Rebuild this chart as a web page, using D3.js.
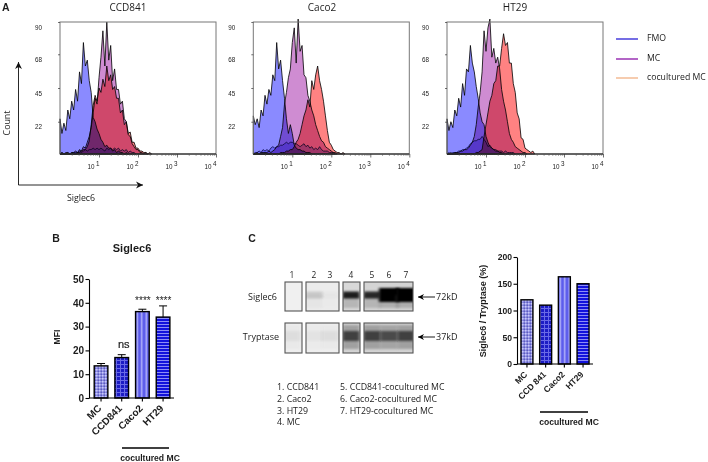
<!DOCTYPE html>
<html><head><meta charset="utf-8">
<script src="https://d3js.org/d3.v7.min.js"></script>
<style>
html,body{margin:0;padding:0;background:#fff}
svg{display:block;isolation:isolate}
text{fill:#1c1c1c}
.m{font-family:"Open Sans","Noto Sans",sans-serif}
.b{font-family:"Liberation Sans",Arial,sans-serif;font-weight:bold}
</style></head><body>
<svg id="c" width="708" height="462"></svg>
<script>
// Flow histograms: counts per log10 bin (bin width 0.05 decades)
const binWidth = 0.05;
const ccdFmo  = [24,14,21,16,30,24,36,30,44,36,56,48,76,60,64,50,42,25,22,17,14,10,8,5,6,4,4,2,3,1,2,1,1,0,1,0];
const ccdFmo2 = [0,1,0,0,1,0,1,1,1,1,2,1,2,3,2,3,3,4,3,4,3,4,3,2,4,3,4,3,4,3,4,2,3,2,3,1,2,1,1,0];
const ccdMc   = [0,1,0,1,1,0,1,1,2,1,3,2,5,4,8,12,18,28,38,34,52,66,84,60,90,64,74,50,58,44,44,34,36,24,22,13,12,7,5,3,3,1,1,0,1,0];
const ccdCo   = [0,0,0,0,0,0,0,0,0,1,1,2,3,3,5,9,20,33,40,36,45,42,51,46,60,50,54,44,46,38,38,28,30,20,22,14,15,8,8,4,4,2,2,1,1,0,1,0];
const cacFmo  = [26,20,24,18,30,26,40,34,44,40,54,50,76,58,64,50,38,24,14,20,14,6,4,3,3,2,2,1,1,1,0];
const cacFmo2 = [0,1,1,2,1,3,2,3,2,4,5,4,5,5,6,6,7,8,7,8,8,7,7,6,5,6,7,5,6,4,5,3,4,3,5,3,2,2,2,1,1,1,0];
const cacMc   = [0,0,1,0,1,1,1,1,2,1,2,3,5,6,12,18,34,42,52,58,76,86,62,92,70,74,54,52,40,36,30,26,20,16,12,9,8,5,4,3,2,1,1,0];
const cacCo   = [0,0,0,0,0,0,0,0,0,0,0,0,0,0,1,1,1,2,2,3,3,5,8,10,14,20,26,30,37,32,50,44,54,60,50,44,36,26,16,8,6,3,2,1,1,0,1,0];
const htFmo   = [24,16,22,18,30,26,38,32,48,40,58,56,74,62,56,46,38,28,22,20,12,8,5,4,3,2,2,1,1,0];
const htFmo2  = [0,1,0,1,1,1,2,2,3,3,4,5,7,8,9,9,10,10,12,10,8,5,6,4,3,3,2,2,2,1,2,1,1,1,1,0];
const htMc    = [0,0,1,0,1,1,1,2,2,3,3,4,6,8,12,20,32,42,56,84,70,86,92,66,72,62,66,58,44,36,30,22,14,10,8,5,4,3,2,1,1,0];
const htCo    = [0,0,0,0,0,0,0,0,0,0,0,0,0,0,0,1,1,2,3,12,20,28,36,40,48,50,60,60,72,82,74,76,62,62,48,42,28,24,11,10,4,3,2,1,2,0];
const histTitles = ["CCD841","Caco2","HT29"];
const countTicks = [22,45,68,90];
const decades = [10,100,1000,10000];
const minorTicks = [2,3,4,5,6,7,8,9,20,30,40,50,60,70,80,90,200,300,400,500,600,700,800,900,2000,3000,4000,5000,6000,7000,8000,9000];
const legendNames = ["FMO","MC","cocultured MC"];
const legendColors = ["#2a1fd6","#8a12a8","#f2b184"];
// Bars
const mfiCats = ["MC","CCD841","Caco2","HT29"];
const mfiVals = [13.5,17,36.3,34];
const mfiTops = [14.5,18.2,37.3,38.7];
const mfiNotes = ["","ns","****","****"];
const mfiTicks = [0,10,20,30,40,50];
const ratioCats = ["MC","CCD 841","Caco2","HT29"];
const ratioVals = [120,110,163,150];
const ratioTicks = [0,50,100,150,200];
// Blot
const laneNums = ["1","2","3","4","5","6","7"];
const siglecLevel = [0,0.14,0.02,0.85,0.8,1,1];
const tryptaseLevel = [0.05,0.03,0.05,0.72,0.72,0.66,0.72];
const key1 = ["1. CCD841","2. Caco2","3. HT29","4. MC"];
const key2 = ["5. CCD841-cocultured MC","6. Caco2-cocultured MC","7. HT29-cocultured MC"];

const svg = d3.select("#c");
const defs = svg.append("defs");
function pat(id,w,h,bg,draw){
  const p = defs.append("pattern").attr("id",id).attr("patternUnits","userSpaceOnUse").attr("width",w).attr("height",h);
  p.append("rect").attr("width",w).attr("height",h).attr("fill",bg);
  draw(p);
}
pat("pMC",3,3,"#8f8fe6",p=>{p.append("rect").attr("width",1.5).attr("height",1.5).attr("fill","#c9c9f6");p.append("rect").attr("x",1.5).attr("y",1.5).attr("width",1.5).attr("height",1.5).attr("fill","#5e5ebd");});
pat("pCCD",4,4,"#1c1cc4",p=>{p.append("rect").attr("width",1).attr("height",4).attr("fill","#6a6ae6");p.append("rect").attr("width",4).attr("height",1).attr("fill","#6a6ae6");});
pat("pCac",4.5,10,"#5c5cec",p=>{p.append("rect").attr("x",1.5).attr("width",1.5).attr("height",10).attr("fill","#b4b4fa");});
pat("pHT",10,3,"#1212dc",p=>{p.append("rect").attr("width",10).attr("height",1).attr("fill","#8c8cf6");});
const pats = ["url(#pMC)","url(#pCCD)","url(#pCac)","url(#pHT)"];
defs.append("filter").attr("id","bl").attr("x","-40%").attr("y","-80%").attr("width","180%").attr("height","260%")
  .append("feGaussianBlur").attr("stdDeviation","1.6 1.3");

// ---- A ----
function txt(x,y,s,cls,size,anchor){
  return svg.append("text").attr("x",x).attr("y",y).attr("class",cls).attr("font-size",size).attr("text-anchor",anchor||"start").text(s);
}
txt(2,11,"A","b",10.5);
const panelLeft = [60,253.3,447];
const titleX = [128,322,515];
const panelSeries = [[ccdFmo,ccdFmo2,ccdMc,ccdCo],[cacFmo,cacFmo2,cacMc,cacCo],[htFmo,htFmo2,htMc,htCo]];
const histFill = ["#8a8aff","#c4bcf6","#cf8cd2","#ff8282"];
const histStroke = ["#000","#10104a","#000","#000"];
panelLeft.forEach((x0,k)=>{
  const x = d3.scaleLog().domain([1,10000]).range([x0,x0+156]);
  const y = d3.scaleLinear().domain([0,90]).range([154,22]);
  const g = svg.append("g");
  const area = d3.area().x((d,i)=>x(Math.pow(10,i*binWidth))).y0(y(0)).y1(d=>y(d));
  panelSeries[k].forEach((s,j)=>{
    g.append("path").datum(s).attr("d",area).attr("fill",histFill[j])
      .attr("stroke",histStroke[j]).attr("stroke-width",0.8).attr("stroke-linejoin","miter")
      .style("mix-blend-mode","multiply");
  });
  g.append("rect").attr("x",x0).attr("y",22).attr("width",156).attr("height",132).attr("fill","none").attr("stroke","#777").attr("stroke-width",1);
  g.append("line").attr("x1",x0).attr("x2",x0+156).attr("y1",154).attr("y2",154).attr("stroke","#111").attr("stroke-width",1.2);
  const ax = g.append("g").attr("transform","translate(0,154)").call(d3.axisBottom(x).tickValues(minorTicks).tickSize(2).tickFormat(""));
  ax.selectAll("line").attr("stroke","#555").attr("stroke-width",0.5);
  ax.select(".domain").remove();
  const ax2 = g.append("g").attr("transform","translate(0,154)").call(d3.axisBottom(x).tickValues(decades).tickSize(3.5).tickFormat(""));
  ax2.selectAll("line").attr("stroke","#333").attr("stroke-width",0.7);
  ax2.select(".domain").remove();
  ax2.selectAll(".tick").each(function(d){
    const t = d3.select(this).append("text").attr("y",14.5).attr("x",0).attr("text-anchor","end").attr("fill","#222")
      .attr("font-family","'Liberation Sans',Arial,sans-serif").attr("font-size",6.3);
    t.append("tspan").text("10");
    t.append("tspan").attr("dx",1.5).attr("dy",-2.5).text(Math.round(Math.log10(d)));
  });
  const ay = g.append("g").attr("transform",`translate(${x0},0)`).call(d3.axisLeft(y).tickValues(countTicks).tickSize(2).tickPadding(16));
  ay.select(".domain").remove();
  ay.selectAll("line").attr("stroke","#333").attr("stroke-width",0.7);
  ay.selectAll("text").attr("font-family","'Liberation Sans',Arial,sans-serif").attr("font-size",6.3).attr("dy",7).attr("fill","#222");
  txt(titleX[k],10.8,histTitles[k],"m",10,"middle");
});
// axes arrows
function arrow(x1,y1,x2,y2,col,w,hs){
  svg.append("line").attr("x1",x1).attr("y1",y1).attr("x2",x2).attr("y2",y2).attr("stroke",col).attr("stroke-width",w);
  const a = Math.atan2(y2-y1,x2-x1);
  const p = [[x2,y2],[x2-hs*Math.cos(a)+hs*0.5*Math.sin(a),y2-hs*Math.sin(a)-hs*0.5*Math.cos(a)],
             [x2-hs*0.7*Math.cos(a),y2-hs*0.7*Math.sin(a)],
             [x2-hs*Math.cos(a)-hs*0.5*Math.sin(a),y2-hs*Math.sin(a)+hs*0.5*Math.cos(a)]];
  svg.append("polygon").attr("points",p.map(d=>d.join(",")).join(" ")).attr("fill",col);
}
arrow(18.5,185,18.5,62,"#111",0.9,7);
arrow(18.5,185,143,185,"#111",0.9,7);
txt(0,0,"Count","m",8.8,"middle").attr("transform","translate(9.6,123) rotate(-90)");
txt(81,201,"Siglec6","m",8.8,"middle");
legendNames.forEach((n,i)=>{
  const yy = [39,59,78][i];
  svg.append("line").attr("x1",616).attr("x2",638).attr("y1",yy).attr("y2",yy).attr("stroke",legendColors[i]).attr("stroke-width",1.3);
  txt(647,yy+2,n,"m",8.7);
});

// ---- bar panels ----
function bars(o){
  const x = d3.scaleBand().domain(o.cats).range(o.xr).paddingInner(o.pad).paddingOuter(o.pad/2);
  const y = d3.scaleLinear().domain(o.dom).range([o.y0,o.y1]);
  const g = svg.append("g");
  g.selectAll("rect").data(o.vals).join("rect")
    .attr("x",(d,i)=>x(o.cats[i])).attr("y",d=>y(d)).attr("width",x.bandwidth()).attr("height",d=>o.y0-y(d))
    .attr("fill",(d,i)=>pats[i]).attr("stroke","#000").attr("stroke-width",1.4);
  if(o.tops){
    o.tops.forEach((t,i)=>{
      const c = x(o.cats[i])+x.bandwidth()/2;
      g.append("line").attr("x1",c).attr("x2",c).attr("y1",y(o.vals[i])).attr("y2",y(t)).attr("stroke","#000").attr("stroke-width",1);
      g.append("line").attr("x1",c-4).attr("x2",c+4).attr("y1",y(t)).attr("y2",y(t)).attr("stroke","#000").attr("stroke-width",1);
    });
  }
  const ay = g.append("g").attr("transform",`translate(${o.ax},0)`).call(d3.axisLeft(y).tickValues(o.ticks).tickSize(3.5).tickSizeOuter(0).tickPadding(1.5));
  ay.selectAll("path,line").attr("stroke","#000").attr("stroke-width",1.1);
  ay.selectAll("text").attr("class","b").attr("font-size",o.fs).attr("fill","#1c1c1c");
  const ab = g.append("g").attr("transform",`translate(0,${o.y0})`).call(d3.axisBottom(x).tickSize(3.5).tickSizeOuter(0));
  ab.select(".domain").attr("d",`M${o.ax},0H${o.xEnd}`).attr("stroke","#000").attr("stroke-width",1.2);
  ab.selectAll("line").attr("stroke","#000").attr("stroke-width",1.1);
  ab.selectAll("text").attr("class","b").attr("font-size",o.fs).attr("fill","#1c1c1c")
    .attr("text-anchor","end").attr("dy",0).attr("y",0)
    .attr("transform","translate(1,11) rotate(-45)");
  return {x,y};
}
txt(56,242,"B","b",10.5,"middle");
txt(132,252,"Siglec6","b",11,"middle");
const bb = bars({cats:mfiCats,vals:mfiVals,tops:mfiTops,dom:[0,50],y0:398,y1:279,xr:[90.7,173.4],pad:0.34,ax:89,xEnd:174,ticks:mfiTicks,fs:10});
mfiNotes.forEach((n,i)=>{
  if(!n) return;
  const c = bb.x(mfiCats[i])+bb.x.bandwidth()/2;
  if(n==="ns") txt(c+2,348,n,"b",11,"middle").style("font-weight","normal").attr("stroke","#1c1c1c").attr("stroke-width",0.2);
  else txt(c+0.5,303.5,n,"b",10,"middle").style("font-weight","normal");
});
txt(0,0,"MFI","b",8.6,"middle").attr("transform","translate(59.5,337) rotate(-90)");
svg.append("line").attr("x1",122).attr("x2",169).attr("y1",448).attr("y2",448).attr("stroke","#000").attr("stroke-width",1.4);
txt(150,461,"cocultured MC","b",8.6,"middle");

bars({cats:ratioCats,vals:ratioVals,dom:[0,200],y0:364,y1:257,xr:[517.6,592.4],pad:0.36,ax:517,xEnd:593,ticks:ratioTicks,fs:8.6});
txt(0,0,"Siglec6 / Tryptase (%)","b",9,"middle").attr("transform","translate(485.5,311) rotate(-90)");
svg.append("line").attr("x1",540).attr("x2",588).attr("y1",412).attr("y2",412).attr("stroke","#000").attr("stroke-width",1.4);
txt(569,425,"cocultured MC","b",8.6,"middle");

// ---- C blot ----
txt(252,242,"C","b",10.5,"middle");
const laneX = d3.scaleOrdinal().domain(laneNums).range([292,314,330,351,372,389,406]);
laneNums.forEach(n=>txt(laneX(n),278,n,"m",8.4,"middle"));
const boxes = [[285,302,[0]],[306,339,[1,2]],[343,360,[3]],[364,413,[4,5,6]]];
function blotRow(y0,y1,levels,name,isTrypt){
  boxes.forEach((b,bi)=>{
    const id = "cl"+name+bi;
    defs.append("clipPath").attr("id",id).append("rect").attr("x",b[0]).attr("y",y0).attr("width",b[1]-b[0]).attr("height",y1-y0);
    const g = svg.append("g").attr("clip-path",`url(#${id})`);
    const mx = d3.max(b[2].map(i=>levels[i]));
    const bg = d3.interpolateRgb("#f0f0f0", isTrypt?"#c8c8c8":"#d4d4d4")(mx);
    g.append("rect").attr("x",b[0]).attr("y",y0).attr("width",b[1]-b[0]).attr("height",y1-y0).attr("fill",bg);
    const cy = (y0+y1)/2 - (isTrypt?2:1.5);
    b[2].forEach(i=>{
      const l = levels[i], big = l>=1;
      const c = laneX(laneNums[i]), w = bi===3?(big?20:17):(b[1]-b[0])-(b[2].length>1?16:0);
      if(l<=0) return;
      if(isTrypt){
        g.append("rect").attr("x",c-w/2).attr("y",cy-11).attr("width",w).attr("height",24).attr("fill","#555").attr("opacity",l*0.55).attr("filter","url(#bl)");
        g.append("rect").attr("x",c-w/2).attr("y",cy-5).attr("width",w).attr("height",10).attr("fill","#1c1c1c").attr("opacity",l).attr("filter","url(#bl)");
      } else {
        g.append("rect").attr("x",c-w/2).attr("y",cy).attr("width",w).attr("height",13).attr("fill","#777").attr("opacity",l*0.4).attr("filter","url(#bl)");
        const h = big?14:7;
        g.append("rect").attr("x",c-w/2).attr("y",cy-h/2).attr("width",w).attr("height",h).attr("fill","#000").attr("opacity",l).attr("filter","url(#bl)");
      }
    });
    svg.append("rect").attr("x",b[0]).attr("y",y0).attr("width",b[1]-b[0]).attr("height",y1-y0).attr("fill","none").attr("stroke","#555").attr("stroke-width",1.1);
  });
}
blotRow(282,311,siglecLevel,"s",false);
blotRow(323,353,tryptaseLevel,"t",true);
txt(277,300,"Siglec6","m",9,"end");
txt(279,340,"Tryptase","m",9,"end");
arrow(435,297,418,297,"#000",0.9,6);
arrow(435,337,418,337,"#000",0.9,6);
txt(436,300,"72kD","m",9);
txt(436,340,"37kD","m",9);
key1.forEach((s,i)=>txt(277,[390,402,414,425][i],s,"m",8.8));
key2.forEach((s,i)=>txt(340,[390,402,414][i],s,"m",8.8));
</script>
</body></html>
